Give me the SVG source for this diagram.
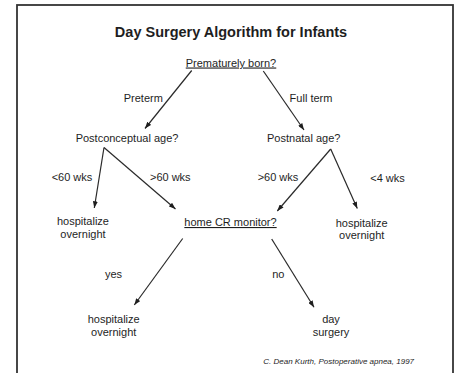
<svg xmlns="http://www.w3.org/2000/svg" width="461" height="373" viewBox="0 0 461 373">
<style>
text{font-family:"Liberation Sans",Arial,sans-serif;fill:#1e1e1e;font-size:11px;text-anchor:middle}
.t{font-size:14.5px;font-weight:bold}
.u{text-decoration:underline}
.c{font-size:8px;font-style:italic;text-anchor:start}
.e{stroke:#2a2a2a;stroke-width:1.2;fill:none;marker-end:url(#ah)}
</style>
<defs>
<marker id="ah" viewBox="0 0 8 6" refX="8" refY="3" markerWidth="7" markerHeight="5" markerUnits="userSpaceOnUse" orient="auto">
<path d="M0,0 L8,3 L0,6 Z" fill="#1e1e1e"/>
</marker>
</defs>
<rect x="0" y="0" width="461" height="373" fill="#fff"/>
<rect x="17" y="5" width="436" height="380" fill="none" stroke="#333" stroke-width="1.8"/>
<g id="title"><text class="t" x="231" y="36.5">Day Surgery Algorithm for Infants</text></g>
<g id="connectors">
<line class="e" x1="191.7" y1="70.5" x2="145" y2="128.5"/>
<line class="e" x1="263.3" y1="71" x2="304" y2="130"/>
<line class="e" x1="104" y1="147.5" x2="94.3" y2="208"/>
<line class="e" x1="104" y1="147.5" x2="175.5" y2="209"/>
<line class="e" x1="330.7" y1="149" x2="277.3" y2="211"/>
<line class="e" x1="330.7" y1="149" x2="357.3" y2="208.5"/>
<line class="e" x1="182.7" y1="238.5" x2="134.3" y2="305"/>
<line class="e" x1="271.7" y1="239" x2="314" y2="307.3"/>
</g>
<g id="labels">
<text x="143.3" y="101.5">Preterm</text>
<text x="311" y="101.5">Full term</text>
<text x="72" y="181">&lt;60 wks</text>
<text x="170.3" y="181">&gt;60 wks</text>
<text x="278" y="181">&gt;60 wks</text>
<text x="387.5" y="182">&lt;4 wks</text>
<text x="113.5" y="277.5">yes</text>
<text x="278.3" y="277.5">no</text>
</g>
<g id="n-premature"><text class="u" x="231" y="66.5">Prematurely born?</text></g>
<g id="n-postconceptual"><text x="127" y="141.5">Postconceptual age?</text></g>
<g id="n-postnatal"><text x="303.7" y="141.5">Postnatal age?</text></g>
<g id="n-hosp-left"><text x="83" y="225">hospitalize</text><text x="83" y="238">overnight</text></g>
<g id="n-monitor"><text class="u" x="230.5" y="226">home CR monitor?</text></g>
<g id="n-hosp-right"><text x="361.7" y="226.5">hospitalize</text><text x="361.7" y="239">overnight</text></g>
<g id="n-hosp-bottom"><text x="113.7" y="323">hospitalize</text><text x="113.7" y="336">overnight</text></g>
<g id="n-day"><text x="331" y="322.5">day</text><text x="331" y="335.5">surgery</text></g>
<g id="citation"><text class="c" x="263.3" y="364">C. Dean Kurth, Postoperative apnea, 1997</text></g>
</svg>
